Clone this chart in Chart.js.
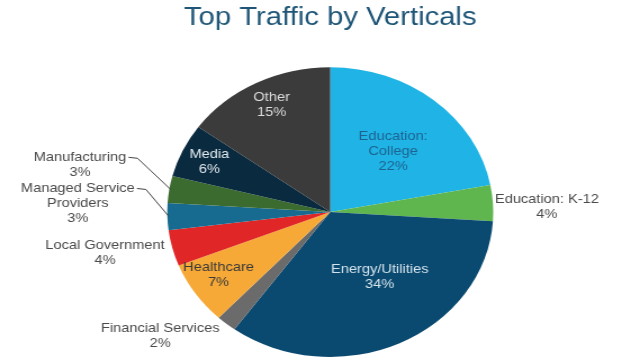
<!DOCTYPE html>
<html>
<head>
<meta charset="utf-8">
<script src="https://cdn.jsdelivr.net/npm/chart.js@4.4.1/dist/chart.umd.min.js"></script>
<style>
  html, body { margin: 0; padding: 0; background: #fff; overflow: hidden; }
  /* the source picture is stretched sideways, so the chart is drawn narrow and scaled */
  #wrap { width: 569px; height: 360px; transform: scaleX(1.1248); transform-origin: 0 0; }
</style>
</head>
<body>
<div id="wrap"><canvas id="chart"></canvas></div>
<script>
const categories = ["Education: College", "Education: K-12", "Energy/Utilities", "Financial Services",
  "Healthcare", "Local Government", "Managed Service Providers", "Manufacturing", "Media", "Other"];
const shares = [22, 4, 34, 2, 7, 4, 3, 3, 6, 15];
const labelLines = [["Education:", "College"], ["Education: K-12"], ["Energy/Utilities"], ["Financial Services"],
  ["Healthcare"], ["Local Government"], ["Managed Service", "Providers"], ["Manufacturing"], ["Media"], ["Other"]];
const sliceColors = ["#1fb4e5", "#5fb64f", "#0b4a70", "#6b6b6b", "#f6a937",
  "#e02626", "#176a90", "#3c6b30", "#0a2a3f", "#3b3b3b"];

// where each label sits: fraction of radius, angle nudge (deg), text colour, leader line
const labelPlace = [
  { r: 0.57, da: 3, color: "#1d6391" },
  { r: 1.33, da: 2, color: "#4a4a4a" },
  { r: 0.54, da: -9, color: "#d3e3ec" },
  { r: 1.35, da: 11, color: "#4a4a4a" },
  { r: 0.81, da: 2, color: "#3a3a3a" },
  { r: 1.41, da: 3, color: "#4a4a4a" },
  { r: 1.55, da: 4, color: "#4a4a4a", leader: true },
  { r: 1.57, da: 3, color: "#4a4a4a", leader: true },
  { r: 0.82, da: 0, color: "#e2eaef" },
  { r: 0.82, da: 1, color: "#dcdcdc" }
];

const sliceLabels = {
  id: 'sliceLabels',
  afterDatasetsDraw(chart) {
    const ctx = chart.ctx;
    const meta = chart.getDatasetMeta(0);
    ctx.save();
    ctx.font = '13px "Liberation Sans", Arial, sans-serif';
    ctx.textAlign = 'center';
    ctx.textBaseline = 'middle';
    meta.data.forEach((arc, i) => {
      const p = arc.getProps(['x', 'y', 'startAngle', 'endAngle', 'outerRadius'], true);
      const place = labelPlace[i];
      const mid = (p.startAngle + p.endAngle) / 2;
      const a = mid + place.da * Math.PI / 180;
      const lx = p.x + Math.cos(a) * p.outerRadius * place.r;
      const ly = p.y + Math.sin(a) * p.outerRadius * place.r;
      const lines = labelLines[i].concat([shares[i] + '%']);
      const lh = 15;
      const top = ly - (lines.length - 1) * lh / 2;
      ctx.fillStyle = place.color;
      lines.forEach((t, k) => ctx.fillText(t, lx, top + k * lh));
      if (place.leader) {
        const w = ctx.measureText(lines[0]).width;
        const sx = lx + w / 2 + 2;
        const ex = p.x + Math.cos(mid) * p.outerRadius * 0.99;
        const ey = p.y + Math.sin(mid) * p.outerRadius * 0.99;
        ctx.strokeStyle = '#444';
        ctx.lineWidth = 1;
        ctx.beginPath();
        ctx.moveTo(sx, top);
        ctx.lineTo(sx + 8, top + 1);
        ctx.lineTo(ex, ey);
        ctx.stroke();
      }
    });
    ctx.restore();
  }
};

new Chart(document.getElementById('chart'), {
  type: 'pie',
  data: {
    labels: categories,
    datasets: [{ data: shares, backgroundColor: sliceColors, borderWidth: 0 }]
  },
  options: {
    responsive: true,
    maintainAspectRatio: false,
    animation: false,
    layout: { padding: { top: 0, bottom: 3, left: 148.6, right: 130.4 } },
    plugins: {
      legend: { display: false },
      tooltip: { enabled: false },
      title: {
        display: true,
        text: 'Top Traffic by Verticals',
        color: '#1f5677',
        font: { family: '"Liberation Sans", Arial, sans-serif', size: 26, weight: 'normal', lineHeight: 1.2 },
        padding: { top: 2, bottom: 34 }
      }
    }
  },
  plugins: [sliceLabels]
});
</script>
</body>
</html>
